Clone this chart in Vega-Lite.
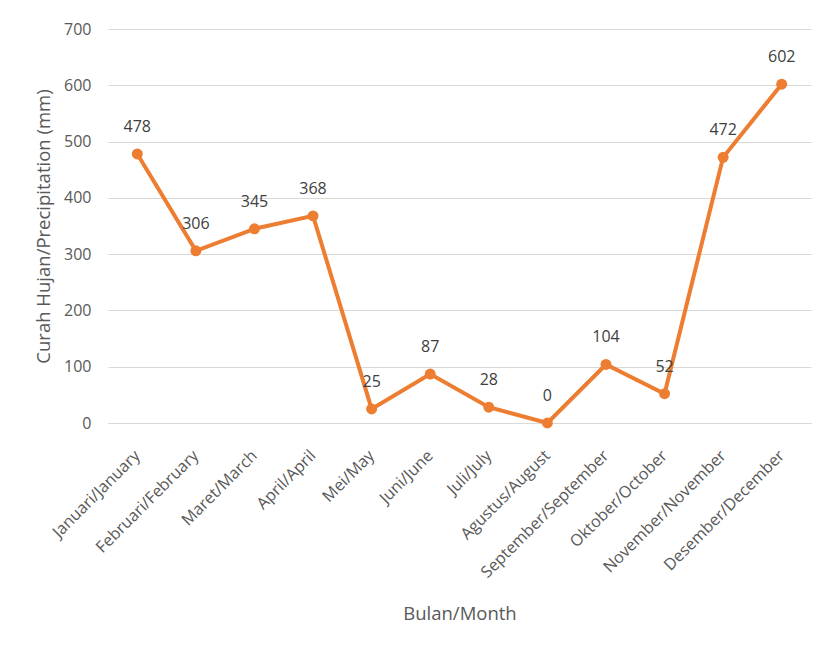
{
  "$schema": "https://vega.github.io/schema/vega-lite/v6.json",
  "width": 703,
  "height": 394,
  "autosize": {"type": "none"},
  "padding": {"left": 108, "top": 29, "right": 17, "bottom": 226},
  "background": "white",
  "config": {
    "view": {"stroke": null},
    "font": "Open Sans"
  },
  "data": {
    "values": [
      {"month": "Januari/January", "value": 478},
      {"month": "Februari/February", "value": 306},
      {"month": "Maret/March", "value": 345},
      {"month": "April/April", "value": 368},
      {"month": "Mei/May", "value": 25},
      {"month": "Juni/June", "value": 87},
      {"month": "Juli/July", "value": 28},
      {"month": "Agustus/August", "value": 0},
      {"month": "September/September", "value": 104},
      {"month": "Oktober/October", "value": 52},
      {"month": "November/November", "value": 472},
      {"month": "Desember/December", "value": 602}
    ]
  },
  "encoding": {
    "x": {
      "field": "month",
      "type": "nominal",
      "sort": null,
      "scale": {"paddingInner": 0, "paddingOuter": 0},
      "axis": {
        "title": "Bulan/Month",
        "titleFont": "Open Sans",
        "titleFontSize": 18.5,
        "titleFontWeight": "normal",
        "titleColor": "#595959",
        "titlePadding": 24,
        "labelAngle": -45,
        "labelFontSize": 16.2,
        "labelColor": "#595959",
        "labelPadding": 24,
        "labelOffset": -6,
        "ticks": false,
        "domainColor": "#d9d9d9",
        "domainWidth": 1,
        "grid": false
      }
    },
    "y": {
      "field": "value",
      "type": "quantitative",
      "scale": {"domain": [0, 700]},
      "axis": {
        "title": "Curah Hujan/Precipitation (mm)",
        "titleFont": "Open Sans",
        "titleFontSize": 18.5,
        "titleFontWeight": "normal",
        "titleColor": "#595959",
        "titlePadding": 10,
        "values": [0, 100, 200, 300, 400, 500, 600, 700],
        "labelFontSize": 16,
        "labelColor": "#595959",
        "labelPadding": 17,
        "ticks": false,
        "domain": false,
        "gridColor": "#d9d9d9",
        "gridWidth": 1
      }
    }
  },
  "layer": [
    {
      "mark": {"type": "line", "color": "#ED7D31", "strokeWidth": 4}
    },
    {
      "mark": {"type": "point", "filled": true, "color": "#ED7D31", "opacity": 1, "size": 120}
    },
    {
      "mark": {"type": "text", "dy": -27, "fontSize": 16, "color": "#404040", "font": "Open Sans"},
      "encoding": {"text": {"field": "value", "type": "quantitative"}}
    }
  ]
}
